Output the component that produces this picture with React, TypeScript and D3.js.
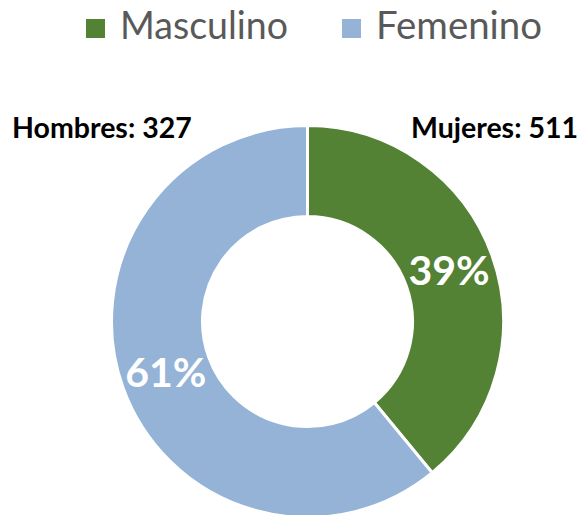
import React from "react";
import * as d3 from "d3";

const categories = ["Masculino", "Femenino"];
const values = [327, 511];
const colors = ["#548235", "#95B3D7"];
const annotations = ["Hombres: 327", "Mujeres: 511"];

const W = 585;
const H = 515;

export default function App() {
  const cx = 307.5;
  const cy = 321.5;
  const outerR = 196;
  const innerR = 105;
  const total = d3.sum(values);
  const pie = d3.pie<number>().sort(null).value((d) => d)(values);
  const arc = d3.arc<d3.PieArcDatum<number>>().innerRadius(innerR).outerRadius(outerR);
  const fmt = d3.format(".0%");

  const legendX = [86, 342];
  const legendLen = [168, 166];
  const font = "Lato, 'Open Sans', sans-serif";

  return (
    <svg
      width={W}
      height={H}
      style={{ position: "absolute", left: 0, top: 0, background: "#fff" }}
    >
      {categories.map((c, i) => (
        <g key={c} transform={`translate(${legendX[i]},0)`}>
          <rect x={0} y={19} width={19} height={19} fill={colors[i]} />
          <text
            x={34}
            y={39}
            fontFamily={font}
            fontSize={38}
            fill="#595959"
            textLength={legendLen[i]}
            lengthAdjust="spacingAndGlyphs"
          >
            {c}
          </text>
        </g>
      ))}
      <text x={12} y={138} fontFamily={font} fontWeight="bold" fontSize={28.5} fill="#000">
        {annotations[0]}
      </text>
      <text x={578} y={138} textAnchor="end" fontFamily={font} fontWeight="bold" fontSize={28.5} fill="#000">
        {annotations[1]}
      </text>
      <g transform={`translate(${cx},${cy})`}>
        {pie.map((p, i) => (
          <path key={i} d={arc(p) || ""} fill={colors[i]} stroke="#fff" strokeWidth={3} />
        ))}
        {pie.map((p, i) => {
          const [x, y] = arc.centroid(p);
          return (
            <text
              key={"l" + i}
              x={x}
              y={y}
              dy="0.36em"
              textAnchor="middle"
              fontFamily={font}
              fontWeight="bold"
              fontSize={41}
              fill="#fff"
            >
              {fmt(p.value / total)}
            </text>
          );
        })}
      </g>
    </svg>
  );
}
